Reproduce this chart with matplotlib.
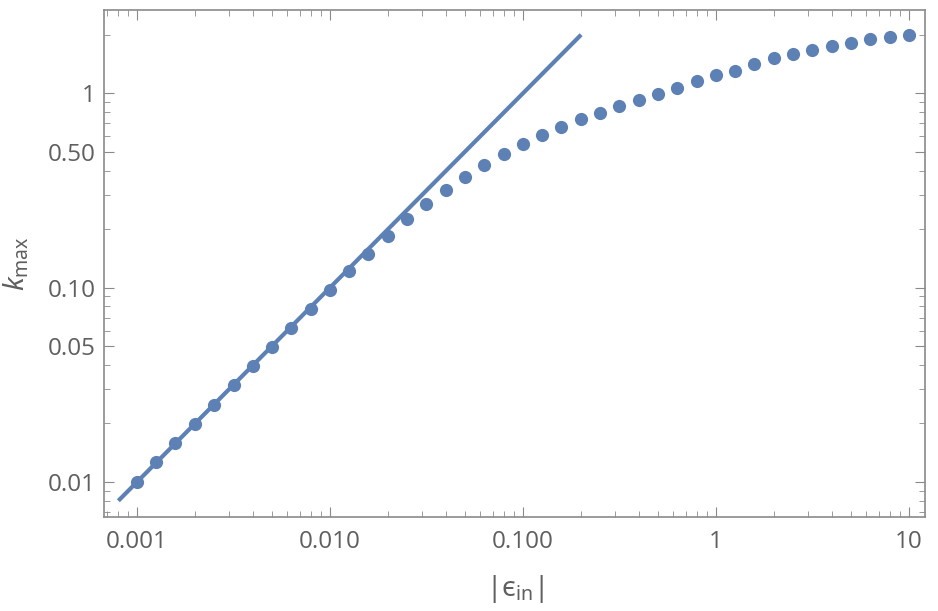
import matplotlib
matplotlib.use('Agg')
import matplotlib.pyplot as plt
from matplotlib.ticker import LogLocator, FixedLocator, FixedFormatter, NullFormatter

plt.rcParams['font.family'] = ['Open Sans', 'DejaVu Sans']
plt.rcParams['mathtext.fontset'] = 'custom'
plt.rcParams['mathtext.rm'] = 'Noto Sans'
plt.rcParams['mathtext.it'] = 'Noto Sans:italic'

# |eps_in| sample points and measured k_max
eps = [0.001, 0.00126, 0.00158, 0.002, 0.00251, 0.00316, 0.00398, 0.00501, 0.00631, 0.00794,
       0.01, 0.0126, 0.0158, 0.02, 0.0251, 0.0316, 0.0398, 0.0501, 0.0631, 0.0794,
       0.1, 0.126, 0.158, 0.2, 0.251, 0.316, 0.398, 0.501, 0.631, 0.794,
       1.0, 1.26, 1.58, 2.0, 2.51, 3.16, 3.98, 5.01, 6.31, 7.94, 10.0]
kmax = [0.0100, 0.0126, 0.0158, 0.0199, 0.0250, 0.0314, 0.0394, 0.0494, 0.0619, 0.0776,
        0.0970, 0.121, 0.148, 0.184, 0.225, 0.268, 0.317, 0.371, 0.429, 0.487,
        0.548, 0.607, 0.671, 0.740, 0.795, 0.857, 0.928, 0.988, 1.070, 1.153,
        1.238, 1.303, 1.406, 1.509, 1.595, 1.665, 1.753, 1.804, 1.891, 1.936, 1.99]

# small-eps asymptote k = 10 |eps|
line_x = [0.0008, 0.2]
line_y = [0.008, 2.0]

xticks = [0.001, 0.01, 0.1, 1, 10]
xlabels = ['0.001', '0.010', '0.100', '1', '10']
yticks = [0.01, 0.05, 0.1, 0.5, 1]
ylabels = ['0.01', '0.05', '0.10', '0.50', '1']

col = '#5E81B5'
gray = '#8a8a8a'
txt = '#5f5f5f'

fig = plt.figure(figsize=(9.38, 6.11), dpi=100)
ax = fig.add_axes([104/938, 1 - 517/611, 821/938, 507/611])

ax.plot(line_x, line_y, color=col, lw=3, solid_capstyle='butt')
ax.plot(eps, kmax, 'o', color=col, ms=9.5, mec='none')

ax.set_xscale('log')
ax.set_yscale('log')
ax.set_xlim(0.000674, 12.1)
ax.set_ylim(0.0066, 2.68)

ax.xaxis.set_major_locator(FixedLocator(xticks))
ax.xaxis.set_major_formatter(FixedFormatter(xlabels))
ax.yaxis.set_major_locator(FixedLocator(yticks))
ax.yaxis.set_major_formatter(FixedFormatter(ylabels))
ax.xaxis.set_minor_locator(LogLocator(base=10, subs=range(2, 10), numticks=20))
ax.yaxis.set_minor_locator(LogLocator(base=10, subs=range(2, 10), numticks=20))
ax.xaxis.set_minor_formatter(NullFormatter())
ax.yaxis.set_minor_formatter(NullFormatter())

ax.tick_params(which='both', direction='in', top=True, right=True, color=gray,
               labelsize=17.5, labelcolor=txt)
ax.tick_params(which='major', length=7, width=0.8)
ax.tick_params(which='minor', length=4, width=0.6)
ax.tick_params(axis='x', pad=9)
ax.tick_params(axis='y', pad=6)

for s in ax.spines.values():
    s.set_color(gray)
    s.set_linewidth(1.2)

ax.set_xlabel('$|\\mathrm{\u03f5}_{\\mathrm{in}}|$', fontsize=20, color=txt, labelpad=14)
ax.set_ylabel(r'$k_{\mathrm{max}}$', fontsize=20, color=txt, labelpad=12)

fig.savefig('out.png', dpi=100)
